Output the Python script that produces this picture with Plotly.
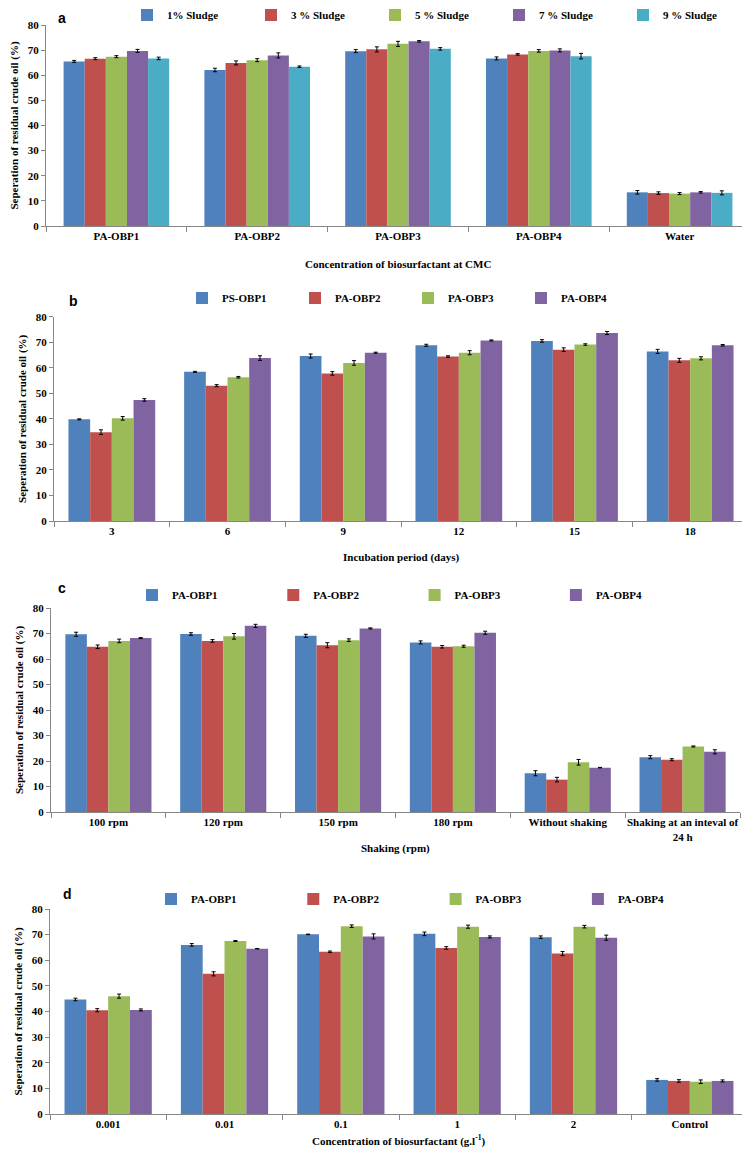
import plotly.graph_objects as go

# ---------------- data ----------------
cats_a = ["PA-OBP1", "PA-OBP2", "PA-OBP3", "PA-OBP4", "Water"]
series_a = ["1% Sludge", "3 % Sludge", "5 % Sludge", "7 % Sludge", "9 % Sludge"]
vals_a = [
    [65.5, 62.1, 69.6, 66.7, 13.4],
    [66.6, 64.9, 70.3, 68.3, 13.1],
    [67.4, 66.0, 72.5, 69.7, 12.9],
    [69.7, 67.9, 73.5, 69.9, 13.4],
    [66.7, 63.4, 70.5, 67.6, 13.2],
]
err_a = [
    [0.4, 0.7, 0.6, 0.6, 0.7],
    [0.4, 0.8, 1.0, 0.3, 0.5],
    [0.4, 0.6, 1.0, 0.5, 0.4],
    [0.6, 1.0, 0.3, 0.6, 0.3],
    [0.5, 0.3, 0.5, 1.1, 0.8],
]

cats_b = ["3", "6", "9", "12", "15", "18"]
series_b = ["PS-OBP1", "PA-OBP2", "PA-OBP3", "PA-OBP4"]
vals_b = [
    [39.8, 58.4, 64.6, 68.8, 70.5, 66.4],
    [34.8, 53.0, 57.8, 64.4, 67.1, 62.9],
    [40.2, 56.3, 61.9, 65.9, 69.1, 63.7],
    [47.4, 63.8, 65.9, 70.7, 73.6, 68.8],
]
err_b = [
    [0.2, 0.2, 0.8, 0.4, 0.5, 0.8],
    [0.9, 0.4, 0.7, 0.3, 0.7, 0.8],
    [0.7, 0.3, 0.9, 0.8, 0.3, 0.6],
    [0.5, 0.9, 0.2, 0.2, 0.6, 0.3],
]

cats_c = ["100 rpm", "120 rpm", "150 rpm", "180 rpm", "Without shaking",
          "Shaking at an inteval of<br>24 h"]
series_c = ["PA-OBP1", "PA-OBP2", "PA-OBP3", "PA-OBP4"]
vals_c = [
    [69.7, 69.8, 69.1, 66.5, 15.2, 21.5],
    [64.8, 67.1, 65.4, 64.8, 12.7, 20.5],
    [67.1, 68.9, 67.4, 65.0, 19.5, 25.7],
    [68.2, 73.0, 72.0, 70.3, 17.4, 23.6],
]
err_c = [
    [0.8, 0.5, 0.6, 0.6, 1.0, 0.6],
    [0.7, 0.5, 1.0, 0.5, 0.9, 0.4],
    [0.7, 1.1, 0.5, 0.4, 1.1, 0.2],
    [0.2, 0.6, 0.2, 0.6, 0.1, 0.8],
]

cats_d = ["0.001", "0.01", "0.1", "1", "2", "Control"]
series_d = ["PA-OBP1", "PA-OBP2", "PA-OBP3", "PA-OBP4"]
vals_d = [
    [44.7, 66.0, 70.1, 70.3, 69.0, 13.3],
    [40.5, 54.7, 63.3, 64.8, 62.6, 12.9],
    [46.0, 67.5, 73.3, 73.1, 73.1, 12.6],
    [40.6, 64.5, 69.3, 69.1, 68.8, 12.9],
]
err_d = [
    [0.5, 0.5, 0.1, 0.7, 0.5, 0.5],
    [0.6, 0.8, 0.3, 0.5, 0.8, 0.5],
    [0.8, 0.2, 0.5, 0.6, 0.5, 0.7],
    [0.4, 0.1, 1.0, 0.4, 1.0, 0.4],
]

colors = ["#4F81BD", "#C0504D", "#9BBB59", "#8064A2", "#4BACC6"]

# ---------------- figure ----------------
# the page body adds an 8px margin; positions below are given in screen px
OFF = 8
W, H = 750 - OFF, 1150 - OFF
SERIF = "Liberation Serif"
AXC = "#868686"


def px_x(x):
    return (x - OFF) / W


def px_y(y):
    return 1 - (y - OFF) / H


fig = go.Figure()

panels = [
    dict(cats=cats_a, series=series_a, vals=vals_a, errs=err_a, x0=46, x1=750, yt=25, yb=226,
         xtitle="Concentration of biosurfactant at CMC", xt_y=264, letter="a", lx=62, ly=6,
         leg_y=15, mark1=148, step=124, gap=0.23),
    dict(cats=cats_b, series=series_b, vals=vals_b, errs=err_b, x0=54, x1=748, yt=316.7, yb=521,
         xtitle="Incubation period (days)", xt_y=557, letter="b", lx=73, ly=301,
         leg_y=298, mark1=203, step=113, gap=0.27),
    dict(cats=cats_c, series=series_c, vals=vals_c, errs=err_c, x0=51, x1=740, yt=608, yb=812,
         xtitle="Shaking (rpm)", xt_y=848, letter="c", lx=62, ly=588,
         leg_y=595, mark1=153, step=141.3, gap=0.27),
    dict(cats=cats_d, series=series_d, vals=vals_d, errs=err_d, x0=50, x1=748, yt=909, yb=1114,
         xtitle="Concentration of biosurfactant (g.l<sup>-1</sup>)", xt_y=1140, letter="d", lx=68, ly=894,
         leg_y=899, mark1=172, step=142.3, gap=0.26),
]

layout = dict(
    width=W, height=H,
    margin=dict(l=0, r=0, t=0, b=0, autoexpand=False),
    paper_bgcolor="white", plot_bgcolor="white",
    barmode="group",
    showlegend=True,
    annotations=[],
)

for i, p in enumerate(panels):
    n = i + 1
    xa = "x" if n == 1 else f"x{n}"
    ya = "y" if n == 1 else f"y{n}"
    leg = "legend" if n == 1 else f"legend{n}"
    for s, name in enumerate(p["series"]):
        fig.add_trace(go.Bar(
            x=p["cats"], y=p["vals"][s], name=name,
            marker=dict(color=colors[s], line=dict(width=0)),
            error_y=dict(type="data", array=p["errs"][s], color="black",
                         thickness=1, width=2),
            xaxis=xa, yaxis=ya, legend=leg,
        ))
    layout[f"xaxis{'' if n == 1 else n}"] = dict(
        domain=[max(px_x(p["x0"]), 0), min(px_x(p["x1"]), 1.0)],
        anchor=ya, type="category",
        showline=True, linecolor=AXC, linewidth=1,
        ticks="outside", tickson="boundaries", ticklen=5, tickcolor=AXC,
        tickangle=0,
        tickfont=dict(family=SERIF, size=11, color="black", weight="bold"),
        showgrid=False, zeroline=False,
    )
    layout[f"yaxis{'' if n == 1 else n}"] = dict(
        domain=[px_y(p["yb"]), px_y(p["yt"])],
        anchor=xa, range=[0, 80], dtick=10,
        showline=True, linecolor=AXC, linewidth=1,
        ticks="outside", ticklen=4, tickcolor=AXC,
        tickfont=dict(family=SERIF, size=11, color="black", weight="bold"),
        showgrid=False, zeroline=False,
        title=dict(text="Seperation of residual crude oil (%)", standoff=6,
                   font=dict(family=SERIF, size=11, color="black", weight="bold")),
    )
    layout[leg] = dict(
        orientation="h", x=px_x(p["mark1"] - 21), y=px_y(p["leg_y"]),
        xanchor="left", yanchor="middle",
        entrywidth=p["step"] - 45, entrywidthmode="pixels",
        itemwidth=30, tracegroupgap=0,
        font=dict(family=SERIF, size=11, color="black", weight="bold"),
        bgcolor="rgba(0,0,0,0)", borderwidth=0,
        itemclick=False, itemdoubleclick=False,
    )
    layout["annotations"].append(dict(
        text=p["xtitle"], xref="paper", yref="paper",
        x=(px_x(p["x0"]) + min(px_x(p["x1"]), 1.0)) / 2, y=px_y(p["xt_y"]),
        xanchor="center", yanchor="middle", showarrow=False,
        font=dict(family=SERIF, size=11, color="black", weight="bold"),
    ))
    ly = p["ly"]
    layout["annotations"].append(dict(
        text=p["letter"], xref="paper", yref="paper",
        x=px_x(p["lx"]), y=min(px_y(ly), 1.0) if ly > 12 else 1.0,
        xanchor="center", yanchor="middle" if ly > 12 else "top",
        showarrow=False,
        font=dict(family="Liberation Sans", size=14, color="black", weight="bold"),
    ))

layout["bargap"] = 0.25
layout["bargroupgap"] = 0
fig.update_layout(**layout)

fig.write_html("out.html")
